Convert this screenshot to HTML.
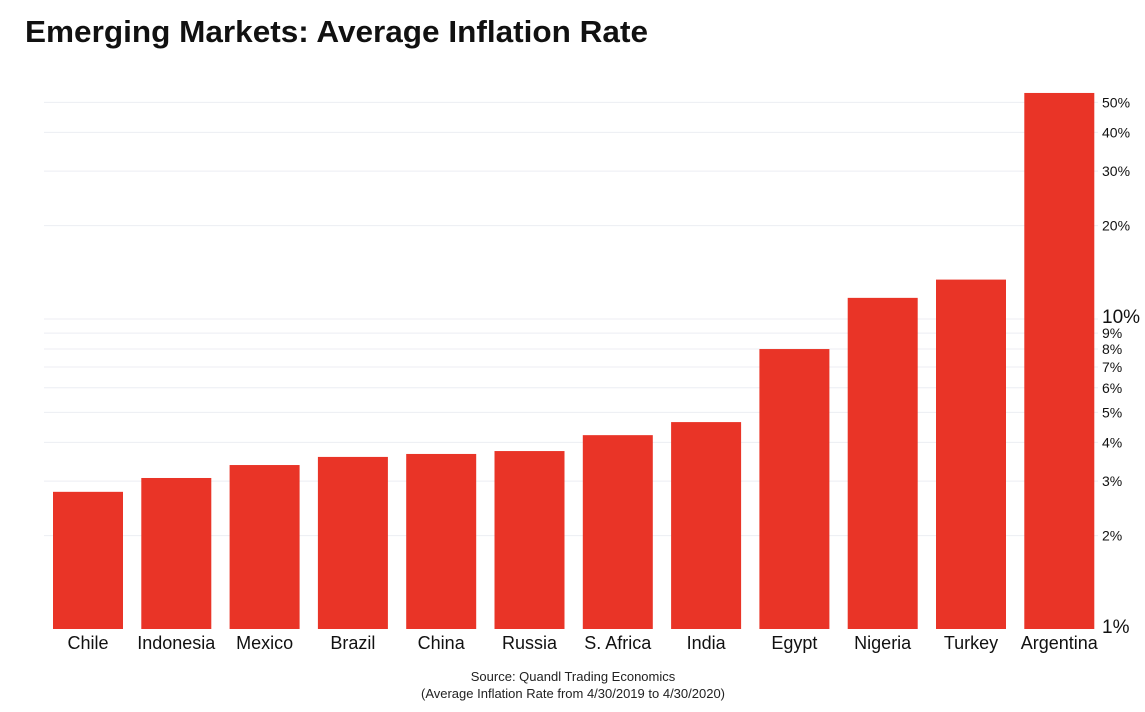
<!DOCTYPE html>
<html><head><meta charset="utf-8"><style>
body{margin:0;background:#fff;width:1145px;height:707px;overflow:hidden;font-family:"Liberation Sans",sans-serif;}
</style></head><body>
<svg width="1145" height="707">
<text x="25" y="42" font-size="31" font-weight="bold" fill="#111" textLength="623" lengthAdjust="spacingAndGlyphs">Emerging Markets: Average Inflation Rate</text>
<g id="grid"></g><g id="bars"></g><g id="ylab"></g><g id="xlab"></g>
<text x="573" y="681" font-size="13" text-anchor="middle" fill="#222">Source: Quandl Trading Economics</text>
<text x="573" y="698" font-size="13" text-anchor="middle" fill="#222">(Average Inflation Rate from 4/30/2019 to 4/30/2020)</text>
</svg>
<script>
const categories=["Chile","Indonesia","Mexico","Brazil","China","Russia","S. Africa","India","Egypt","Nigeria","Turkey","Argentina"];
const values=[2.77,3.07,3.38,3.59,3.67,3.75,4.22,4.65,8.0,11.7,13.4,53.6];
const ticks=[1,2,3,4,5,6,7,8,9,10,20,30,40,50];
const tickLabels=["1%","2%","3%","4%","5%","6%","7%","8%","9%","10%","20%","30%","40%","50%"];
const NS="http://www.w3.org/2000/svg";
const y=v=>629-Math.log10(v)*310;
const x=i=>53+i*88.3;
function mk(t,a,p){const e=document.createElementNS(NS,t);for(const k in a)e.setAttribute(k,a[k]);document.getElementById(p).appendChild(e);return e;}
ticks.forEach((t,i)=>{
  if(t>1){const g=mk('line',{x1:44,x2:1098,y1:y(t),y2:y(t),stroke:'#eceef3','stroke-width':1},'grid');
  
  }
  const big=(t===1||t===10);
  const l=mk('text',{x:1102,y:y(t)+(big?4:5),'font-size':big?19:14,fill:'#111'},'ylab');
  l.textContent=tickLabels[i];
  
  
});
values.forEach((v,i)=>{
  const r=mk('rect',{x:x(i),y:y(v),width:70,height:629-y(v),fill:'#e93427'},'bars');
  
  
  const t=mk('text',{x:x(i)+35,y:649,'font-size':18,'text-anchor':'middle',fill:'#111'},'xlab');
  t.textContent=categories[i];
  
  
});
</script>
</body></html>
